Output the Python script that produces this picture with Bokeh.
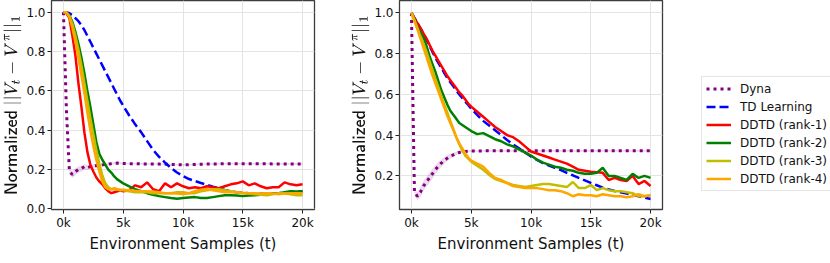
from bokeh.plotting import figure
from bokeh.layouts import row
from bokeh.models import FixedTicker, Legend, LegendItem, Range1d
from bokeh.embed import file_html
from bokeh.resources import INLINE

# ---------------- data ----------------
samples = [0, 250, 500, 750, 1000, 1250, 1500, 1750, 2000, 2250, 2500, 2750, 3000,
           3250, 3500, 3750, 4000, 4250, 4500, 4750, 5000,
           5500, 6000, 6500, 7000, 7500, 8000, 8500, 9000, 9500, 10000,
           10500, 11000, 11500, 12000, 12500, 13000, 13500, 14000, 14500, 15000,
           15500, 16000, 16500, 17000, 17500, 18000, 18500, 19000, 19500, 20000]

series_names = ["Dyna", "TD Learning", "DDTD (rank-1)", "DDTD (rank-2)",
                "DDTD (rank-3)", "DDTD (rank-4)"]

# left panel
left_dyna = [1.0, 0.5, 0.19, 0.175, 0.19, 0.2, 0.205, 0.215, 0.21, 0.215, 0.218, 0.22, 0.222,
             0.224, 0.226, 0.228, 0.23, 0.232, 0.233, 0.232, 0.231,
             0.23, 0.23, 0.229, 0.229, 0.228, 0.228, 0.227, 0.226, 0.225, 0.224,
             0.225, 0.226, 0.227, 0.228, 0.229, 0.229, 0.23, 0.23, 0.23, 0.23,
             0.23, 0.23, 0.23, 0.23, 0.229, 0.229, 0.229, 0.229, 0.229, 0.229]
left_td = [1.0, 1.0, 0.995, 0.985, 0.97, 0.955, 0.935, 0.91, 0.88, 0.85, 0.82, 0.79, 0.76,
           0.73, 0.70, 0.67, 0.64, 0.61, 0.58, 0.55, 0.525,
           0.475, 0.43, 0.39, 0.345, 0.30, 0.265, 0.235, 0.208, 0.185, 0.167,
           0.152, 0.142, 0.132, 0.123, 0.113, 0.104, 0.096, 0.089, 0.085, 0.082,
           0.08, 0.078, 0.077, 0.077, 0.078, 0.08, 0.083, 0.085, 0.087, 0.089]
left_r1 = [1.0, 0.995, 0.97, 0.88, 0.78, 0.64, 0.52, 0.39, 0.29, 0.225, 0.19, 0.16, 0.14,
           0.125, 0.105, 0.09, 0.08, 0.085, 0.09, 0.095, 0.09,
           0.095, 0.12, 0.11, 0.135, 0.10, 0.09, 0.13, 0.11, 0.13, 0.115,
           0.105, 0.11, 0.105, 0.115, 0.11, 0.105, 0.115, 0.125, 0.13, 0.14,
           0.12, 0.13, 0.115, 0.105, 0.11, 0.11, 0.135, 0.125, 0.12, 0.125]
left_r2 = [1.0, 1.0, 0.985, 0.95, 0.9, 0.84, 0.77, 0.69, 0.6, 0.52, 0.43, 0.34, 0.28,
           0.25, 0.225, 0.2, 0.185, 0.165, 0.15, 0.14, 0.13,
           0.115, 0.1, 0.09, 0.08, 0.072, 0.065, 0.06, 0.055, 0.052, 0.055,
           0.058, 0.06, 0.055, 0.055, 0.06, 0.065, 0.07, 0.07, 0.068, 0.065,
           0.068, 0.07, 0.072, 0.075, 0.078, 0.08, 0.085, 0.09, 0.088, 0.09]
left_r3 = [1.0, 1.0, 0.98, 0.94, 0.88, 0.81, 0.73, 0.64, 0.55, 0.46, 0.38, 0.30, 0.23,
           0.17, 0.13, 0.11, 0.10, 0.10, 0.098, 0.095, 0.095,
           0.09, 0.085, 0.085, 0.085, 0.08, 0.08, 0.08, 0.08, 0.085, 0.085,
           0.08, 0.08, 0.09, 0.095, 0.10, 0.10, 0.095, 0.09, 0.085, 0.08,
           0.078, 0.075, 0.072, 0.07, 0.075, 0.08, 0.078, 0.075, 0.07, 0.07]
left_r4 = [1.0, 1.0, 0.975, 0.92, 0.85, 0.77, 0.68, 0.59, 0.49, 0.40, 0.32, 0.25, 0.19,
           0.14, 0.11, 0.10, 0.10, 0.105, 0.10, 0.098, 0.097,
           0.095, 0.092, 0.09, 0.09, 0.088, 0.085, 0.08, 0.08, 0.078, 0.075,
           0.08, 0.09, 0.098, 0.10, 0.095, 0.09, 0.085, 0.085, 0.085, 0.082,
           0.08, 0.08, 0.078, 0.08, 0.078, 0.075, 0.078, 0.08, 0.08, 0.08]
# half-width of the shaded Dyna band (left panel)
left_dyna_spread = [0.0, 0.01, 0.015, 0.018, 0.018, 0.016, 0.015, 0.014, 0.012, 0.01, 0.009, 0.008, 0.008,
                    0.007, 0.007, 0.006, 0.006, 0.006, 0.005, 0.005, 0.005,
                    0.004, 0.004, 0.004, 0.004, 0.004, 0.004, 0.004, 0.004, 0.004, 0.004,
                    0.004, 0.004, 0.004, 0.004, 0.004, 0.004, 0.004, 0.004, 0.004, 0.004,
                    0.004, 0.004, 0.004, 0.004, 0.004, 0.004, 0.004, 0.004, 0.004, 0.004]

# right panel
right_dyna = [1.0, 0.12, 0.1, 0.12, 0.15, 0.17, 0.19, 0.21, 0.23, 0.248, 0.263, 0.276, 0.287,
              0.296, 0.303, 0.31, 0.315, 0.318, 0.32, 0.321, 0.322,
              0.322, 0.323, 0.323, 0.323, 0.323, 0.323, 0.323, 0.323, 0.323, 0.323,
              0.323, 0.323, 0.323, 0.323, 0.323, 0.323, 0.323, 0.323, 0.323, 0.323,
              0.323, 0.323, 0.323, 0.323, 0.323, 0.323, 0.323, 0.323, 0.323, 0.323]
right_td = [1.0, 0.975, 0.95, 0.925, 0.9, 0.87, 0.84, 0.81, 0.78, 0.755, 0.73, 0.705, 0.68,
            0.66, 0.64, 0.62, 0.6, 0.582, 0.565, 0.548, 0.53,
            0.50, 0.47, 0.447, 0.424, 0.40, 0.376, 0.355, 0.335, 0.315, 0.295,
            0.279, 0.263, 0.251, 0.24, 0.228, 0.215, 0.203, 0.19, 0.178, 0.166,
            0.154, 0.142, 0.134, 0.126, 0.12, 0.113, 0.107, 0.10, 0.093, 0.087]
right_r1 = [1.0, 0.975, 0.95, 0.925, 0.9, 0.875, 0.845, 0.815, 0.79, 0.765, 0.74, 0.715, 0.69,
            0.67, 0.65, 0.63, 0.61, 0.595, 0.575, 0.555, 0.54,
            0.515, 0.49, 0.465, 0.44, 0.42, 0.40, 0.39, 0.37, 0.345, 0.32,
            0.31, 0.30, 0.29, 0.28, 0.27, 0.26, 0.245, 0.23, 0.225, 0.22,
            0.218, 0.215, 0.18, 0.19, 0.18, 0.175, 0.2, 0.16, 0.175, 0.15]
right_r2 = [1.0, 0.97, 0.93, 0.905, 0.88, 0.84, 0.79, 0.75, 0.71, 0.665, 0.62, 0.585, 0.55,
            0.52, 0.5, 0.48, 0.46, 0.45, 0.44, 0.43, 0.42,
            0.405, 0.41, 0.395, 0.38, 0.37, 0.355, 0.345, 0.33, 0.315, 0.30,
            0.28, 0.265, 0.255, 0.245, 0.24, 0.23, 0.225, 0.215, 0.21, 0.21,
            0.215, 0.24, 0.2, 0.2, 0.19, 0.18, 0.21, 0.19, 0.2, 0.19]
right_r3 = [1.0, 0.965, 0.925, 0.885, 0.85, 0.81, 0.765, 0.72, 0.675, 0.635, 0.59, 0.55, 0.51,
            0.47, 0.43, 0.39, 0.355, 0.325, 0.3, 0.285, 0.27,
            0.25, 0.23, 0.205, 0.185, 0.175, 0.165, 0.155, 0.15, 0.145, 0.15,
            0.155, 0.16, 0.16, 0.155, 0.15, 0.145, 0.17, 0.14, 0.14, 0.155,
            0.13, 0.14, 0.13, 0.125, 0.125, 0.12, 0.115, 0.10, 0.10, 0.105]
right_r4 = [1.0, 0.96, 0.92, 0.875, 0.83, 0.785, 0.74, 0.695, 0.655, 0.615, 0.575, 0.535, 0.495,
            0.46, 0.425, 0.39, 0.36, 0.335, 0.31, 0.29, 0.275,
            0.26, 0.245, 0.215, 0.19, 0.18, 0.165, 0.15, 0.145, 0.14, 0.14,
            0.14, 0.135, 0.13, 0.13, 0.125, 0.115, 0.10, 0.11, 0.105, 0.105,
            0.1, 0.11, 0.105, 0.1, 0.1, 0.095, 0.1, 0.11, 0.1, 0.105]
# half-width of the shaded Dyna band (right panel)
right_dyna_spread = [0.0, 0.015, 0.02, 0.025, 0.025, 0.025, 0.025, 0.024, 0.022, 0.02, 0.018, 0.016, 0.014,
                     0.012, 0.01, 0.009, 0.008, 0.007, 0.006, 0.005, 0.005,
                     0.004, 0.004, 0.004, 0.004, 0.004, 0.004, 0.004, 0.004, 0.004, 0.004,
                     0.004, 0.004, 0.004, 0.004, 0.004, 0.004, 0.004, 0.004, 0.004, 0.004,
                     0.004, 0.004, 0.004, 0.004, 0.004, 0.004, 0.004, 0.004, 0.004, 0.004]

x_ticks = [0, 5000, 10000, 15000, 20000]
x_tick_labels = ["0k", "5k", "10k", "15k", "20k"]
left_y_ticks = [0.0, 0.2, 0.4, 0.6, 0.8, 1.0]
right_y_ticks = [0.2, 0.4, 0.6, 0.8, 1.0]

# ---------------- styling ----------------
FONT = "DejaVu Sans"
colors = ["#800080", "#0000ff", "#ff0000", "#008000", "#bfbf00", "#ffa500"]
dashes = ["3 4", "9 4", "solid", "solid", "solid", "solid"]
widths = [3, 2.5, 2.5, 2.5, 2.5, 2.5]


def make_panel(series, spread, y_ticks, y_lo, y_hi, left_border, right_border):
    p = figure(frame_width=263, frame_height=209,
               x_range=Range1d(-1000, 21000), y_range=Range1d(y_lo, y_hi),
               output_backend="svg", toolbar_location=None,
               min_border_left=left_border, min_border_right=right_border,
               min_border_top=0, min_border_bottom=38)
    p.background_fill_color = "white"
    p.border_fill_color = "white"
    p.outline_line_color = "#3c3c3c"
    p.outline_line_width = 1.3
    dyna = series[0]
    p.varea(x=samples,
            y1=[v - s for v, s in zip(dyna, spread)],
            y2=[v + s for v, s in zip(dyna, spread)],
            fill_color=colors[0], fill_alpha=0.15)
    renderers = []
    for ys, c, d, w in zip(series, colors, dashes, widths):
        renderers.append(p.line(samples, ys, line_color=c, line_dash=d, line_width=w))
    p.xaxis.ticker = FixedTicker(ticks=x_ticks)
    p.xaxis.major_label_overrides = {t: l for t, l in zip(x_ticks, x_tick_labels)}
    p.yaxis.ticker = FixedTicker(ticks=y_ticks)
    p.yaxis.major_label_overrides = {t: f"{t:.1f}" for t in y_ticks}
    p.xaxis.axis_label = "Environment Samples (t)"
    p.yaxis.axis_label = r"$$\textsf{Normalized }||V_t - V^{\pi}||_1$$"
    for ax in (p.xaxis[0], p.yaxis[0]):
        ax.axis_line_color = None
        ax.major_tick_line_color = "#222222"
        ax.major_tick_out = 4
        ax.major_tick_in = 0
        ax.minor_tick_line_color = None
        ax.major_label_text_font = FONT
        ax.major_label_text_font_size = "12px"
        ax.major_label_text_color = "#111111"
        ax.major_label_standoff = 2
        ax.axis_label_text_font = FONT
        ax.axis_label_text_font_size = "15px"
        ax.axis_label_text_font_style = "normal"
        ax.axis_label_text_color = "#111111"
        ax.axis_label_standoff = 2
    p.yaxis[0].axis_label_text_font_size = "14px"
    p.grid.grid_line_color = "#e3e3e3"
    p.grid.grid_line_width = 1
    return p, renderers


p1, _ = make_panel([left_dyna, left_td, left_r1, left_r2, left_r3, left_r4], left_dyna_spread,
                   left_y_ticks, -0.003, 1.06, 45, 34)
p2, rends = make_panel([right_dyna, right_td, right_r1, right_r2, right_r3, right_r4],
                       right_dyna_spread, right_y_ticks, 0.035, 1.061, 45, 164)

items = [LegendItem(label=name, renderers=[r]) for name, r in zip(series_names, rends)]
legend = Legend(items=items, location=(39, 18))
legend.label_text_font = FONT
legend.label_text_font_size = "12px"
legend.label_text_color = "#111111"
legend.glyph_width = 25
legend.glyph_height = 15
legend.label_height = 15
legend.label_standoff = 9
legend.spacing = 3
legend.padding = 4
legend.margin = 0
legend.border_line_color = "#cccccc"
legend.border_line_width = 1
legend.background_fill_alpha = 1
p2.add_layout(legend, "right")

layout = row(p1, p2)
open("out.html", "w").write(file_html(layout, INLINE))
